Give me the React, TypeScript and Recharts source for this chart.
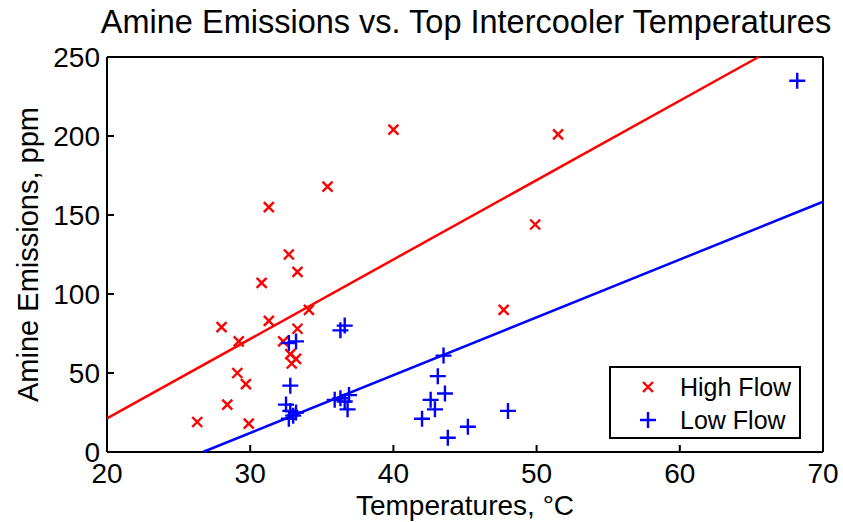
import React from "react";
import {
  ScatterChart,
  Scatter,
  XAxis,
  YAxis,
  Legend,
} from "recharts";

const FONT = '"Liberation Sans", Arial, Helvetica, sans-serif';

// High flow samples: temperature (°C) vs amine emissions (ppm)
const highFlowTemp = [
  40.0, 51.5, 35.4, 31.3, 49.9, 32.7, 33.3, 30.8, 34.1, 47.7, 31.3, 28.0,
  33.3, 29.2, 32.3, 32.8, 33.2, 32.9, 29.1, 29.7, 28.4, 26.3, 29.9,
];
const highFlowPpm = [
  204, 201, 168, 155, 144, 125, 114, 107, 90, 90, 83, 79,
  78, 70, 70, 62, 59, 56, 50, 43, 30, 19, 18,
];

// Low flow samples
const lowFlowTemp = [
  68.2, 36.6, 36.3, 32.7, 33.2, 32.8, 32.5, 32.8, 33.2, 32.7, 33.0,
  35.9, 36.3, 36.6, 36.9, 36.8, 43.5, 43.1, 43.6, 42.6, 42.9, 42.0,
  45.2, 43.8, 48.0,
];
const lowFlowPpm = [
  235, 80, 77, 69, 70, 42, 30, 26, 25, 21, 23,
  33, 34, 32, 36, 27, 61, 48, 37, 33, 27, 21,
  16, 9, 26,
];

// least-squares fit lines, endpoints
const highFitTemp = [20, 65.5];
const highFitPpm = [21.3, 250];
const lowFitTemp = [26.7, 70];
const lowFitPpm = [0, 158.4];

const xTicks = [20, 30, 40, 50, 60, 70];
const yTicks = [0, 50, 100, 150, 200, 250];

const zip = (xs: number[], ys: number[]) => xs.map((x, i) => ({ x, y: ys[i] }));

const highFlow = zip(highFlowTemp, highFlowPpm);
const lowFlow = zip(lowFlowTemp, lowFlowPpm);
const highFit = zip(highFitTemp, highFitPpm);
const lowFit = zip(lowFitTemp, lowFitPpm);

const Cross = (props: any) => {
  const { cx, cy } = props;
  const h = 5;
  return (
    <path
      d={`M${cx - h},${cy - h}L${cx + h},${cy + h}M${cx - h},${cy + h}L${cx + h},${cy - h}`}
      stroke="#ff0000"
      strokeWidth={2.4}
      fill="none"
    />
  );
};

const Plus = (props: any) => {
  const { cx, cy } = props;
  const h = 8;
  return (
    <path
      d={`M${cx - h},${cy}L${cx + h},${cy}M${cx},${cy - h}L${cx},${cy + h}`}
      stroke="#0000ff"
      strokeWidth={2.4}
      fill="none"
    />
  );
};

const NoDot = () => <g />;

const LegendBox = () => (
  <svg width={192} height={73} style={{ display: "block" }}>
    <rect x={1} y={1} width={190} height={71} fill="#fff" stroke="#000" strokeWidth={2} />
    <Cross cx={39} cy={21} />
    <Plus cx={39} cy={54} />
    <text x={71} y={30} fontSize={25} fill="#000" fontFamily={FONT}>
      High Flow
    </text>
    <text x={71} y={63} fontSize={25} fill="#000" fontFamily={FONT}>
      Low Flow
    </text>
  </svg>
);

const axisStyle = { stroke: "#000", strokeWidth: 2 };
const tickStyle = { fill: "#000", fontSize: 28 };

export default function App() {
  return (
    <div
      style={{
        position: "absolute",
        left: 0,
        top: 0,
        width: 843,
        height: 522,
        overflow: "hidden",
        background: "#fff",
        fontFamily: FONT,
      }}
    >
      <ScatterChart
        width={843}
        height={522}
        margin={{ top: 56, right: 19, bottom: 0, left: 0 }}
      >
        <XAxis
          type="number"
          dataKey="x"
          domain={[20, 70]}
          ticks={xTicks}
          interval={0}
          height={70}
          axisLine={axisStyle}
          tickLine={axisStyle}
          tickSize={-7}
          tickMargin={18}
          tick={tickStyle}
          label={{
            value: "Temperatures, °C",
            position: "insideBottom",
            offset: 7,
            fontSize: 28,
            fill: "#000",
          }}
        />
        <XAxis
          xAxisId="top"
          orientation="top"
          type="number"
          dataKey="x"
          domain={[20, 70]}
          ticks={xTicks}
          height={1}
          axisLine={axisStyle}
          tickLine={axisStyle}
          tickSize={-7}
          tick={NoDot}
        />
        <YAxis
          type="number"
          dataKey="y"
          domain={[0, 250]}
          ticks={yTicks}
          interval={0}
          width={107}
          axisLine={axisStyle}
          tickLine={axisStyle}
          tickSize={-7}
          tickMargin={14}
          tick={tickStyle}
          label={{
            value: "Amine Emissions, ppm",
            angle: -90,
            position: "insideLeft",
            offset: 28,
            fontSize: 29,
            fill: "#000",
            style: { textAnchor: "middle" },
          }}
        />
        <YAxis
          yAxisId="right"
          orientation="right"
          type="number"
          dataKey="y"
          domain={[0, 250]}
          ticks={yTicks}
          width={1}
          axisLine={axisStyle}
          tickLine={axisStyle}
          tickSize={-7}
          tick={NoDot}
        />
        <Legend
          layout="horizontal"
          verticalAlign="middle"
          content={LegendBox}
          wrapperStyle={{ position: "absolute", left: 609, top: 366, width: 192, height: 73 }}
        />
        <Scatter
          name="High Flow"
          data={highFlow}
          shape={Cross}
          isAnimationActive={false}
        />
        <Scatter
          name="Low Flow"
          data={lowFlow}
          shape={Plus}
          isAnimationActive={false}
        />
        <Scatter
          data={highFit}
          line={{ stroke: "#ff0000", strokeWidth: 2.5 }}
          lineType="joint"
          shape={NoDot}
          legendType="none"
          isAnimationActive={false}
        />
        <Scatter
          data={lowFit}
          line={{ stroke: "#0000ff", strokeWidth: 2.5 }}
          lineType="joint"
          shape={NoDot}
          legendType="none"
          isAnimationActive={false}
        />
      </ScatterChart>
      <svg
        width={843}
        height={50}
        style={{ position: "absolute", left: 0, top: 0, pointerEvents: "none" }}
      >
        <text x={466} y={33} textAnchor="middle" fontSize={32.5} fill="#000" fontFamily={FONT}>
          Amine Emissions vs. Top Intercooler Temperatures
        </text>
      </svg>
    </div>
  );
}
